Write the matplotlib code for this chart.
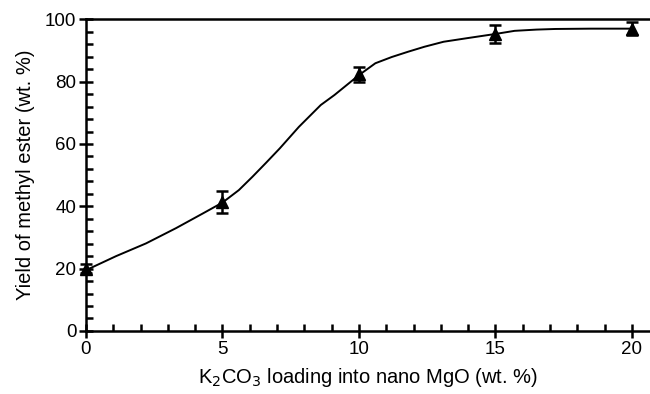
import numpy as np
import matplotlib.pyplot as plt
from matplotlib.ticker import MultipleLocator

plt.rcParams['font.family'] = ['Liberation Sans', 'DejaVu Sans']

# measured points
loading = [0, 5, 10, 15, 20]
yield_ = [20.0, 41.3, 82.3, 95.3, 97.0]
yerr = [1.5, 3.5, 2.3, 3.0, 2.0]

# fitted curve
curve_x = [0, 1.1, 2.2, 3.3, 4.3, 5.0, 5.6, 6.1, 6.6, 7.1, 7.8, 8.6, 9.1,
           10.0, 10.6, 11.2, 11.8, 12.4, 13.1, 14.0, 15.0, 15.7, 16.5, 17.2,
           18.5, 20.0]
curve_y = [19.5, 24.0, 28.1, 33.0, 37.8, 41.2, 45.2, 49.5, 54.0, 58.6, 65.5,
           72.5, 75.7, 82.1, 85.9, 87.9, 89.6, 91.2, 92.8, 94.0, 95.3, 96.3,
           96.7, 96.9, 97.0, 97.0]

fig = plt.figure(figsize=(6.5, 3.94), dpi=100)
ax = fig.add_axes([0.1323, 0.16, 0.8677, 0.791])

ax.plot(curve_x, curve_y, 'k-', lw=1.4, zorder=2)
ax.errorbar(loading, yield_, yerr=yerr, fmt='^', color='k', ms=8,
            capsize=4, capthick=1.8, elinewidth=1.8, zorder=3, clip_on=False)

ax.set_xlim(0, 20.66)
ax.set_ylim(0, 100)
ax.xaxis.set_major_locator(MultipleLocator(5))
ax.xaxis.set_minor_locator(MultipleLocator(1))
ax.yaxis.set_major_locator(MultipleLocator(20))
ax.yaxis.set_minor_locator(MultipleLocator(4))

ax.spines['right'].set_visible(False)
for s in ['left', 'bottom', 'top']:
    ax.spines[s].set_linewidth(1.8)

ax.tick_params(which='major', direction='inout', length=10, width=1.8,
               labelsize=13.5, pad=2)
ax.tick_params(which='minor', direction='in', length=5, width=1.8)
ax.tick_params(top=False, which='both')

ax.set_xlabel('K$_2$CO$_3$ loading into nano MgO (wt. %)', fontsize=14.5, labelpad=6)
ax.set_ylabel('Yield of methyl ester (wt. %)', fontsize=14.5, labelpad=7)

fig.savefig('out.png', dpi=100)
